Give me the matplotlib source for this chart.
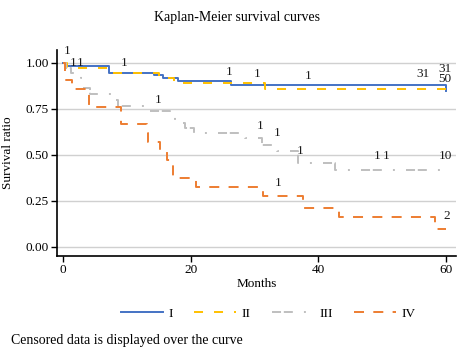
import matplotlib
matplotlib.use('Agg')
import matplotlib.pyplot as plt
from matplotlib.lines import Line2D

plt.rcParams['font.family'] = ['Liberation Serif', 'DejaVu Serif']
plt.rcParams['lines.scale_dashes'] = False

# step curves (time in months, survival ratio)
t_I = [0, 0.5, 7.2, 14.2, 15.7, 18.1, 26.4, 60]
s_I = [1.0, 0.982, 0.947, 0.936, 0.918, 0.90, 0.879, 0.848]

t_II = [0, 0.6, 7.1, 15.1, 17.4, 31.6, 60]
s_II = [1.0, 0.97, 0.943, 0.916, 0.893, 0.859, 0.859]

t_III = [0, 0.5, 1.3, 2.8, 3.2, 4.2, 7.7, 8.6, 13.6, 16.8, 17.6, 19.1, 20.6,
         28.6, 31.2, 33.6, 36.9, 42.6, 60]
s_III = [1.0, 0.975, 0.945, 0.92, 0.865, 0.83, 0.80, 0.767, 0.74, 0.71, 0.675,
         0.648, 0.617, 0.59, 0.553, 0.523, 0.458, 0.418, 0.418]

t_IV = [0, 0.3, 1.4, 4.0, 9.1, 13.1, 13.4, 15.2, 16.3, 17.3, 20.9, 31.4,
        37.6, 43.3, 58.3, 60]
s_IV = [1.0, 0.905, 0.857, 0.759, 0.667, 0.617, 0.568, 0.52, 0.472, 0.373,
        0.324, 0.275, 0.21, 0.161, 0.10, 0.10]

# censored counts written over the curves
cens_text = ['1', '1', '1', '1', '1', '1', '1', '31', '31', '50',
             '1', '1', '1', '1', '1', '1', '10', '1', '2']
cens_x = [0.7, 1.6, 2.7, 9.6, 26.1, 30.5, 38.4, 56.4, 59.9, 59.9,
          14.9, 30.9, 33.5, 37.1, 49.2, 50.6, 60.0, 33.8, 60.1]
cens_y = [1.065, 1.0, 1.0, 1.0, 0.95, 0.94, 0.93, 0.94, 0.967, 0.91,
          0.80, 0.655, 0.62, 0.523, 0.495, 0.495, 0.495, 0.346, 0.168]

groups = ['I', 'II', 'III', 'IV']
colors = ['#4472C4', '#FFC000', '#BFBFBF', '#ED7D31']
styles = ['-', (0, (6.5, 7.9)), (0, (6.5, 2, 6.5, 8, 1.4, 8)), (0, (7.2, 6.7))]

fig = plt.figure(figsize=(4.75, 3.55), dpi=100)
ax = fig.add_axes([0.12, 0.279, 0.84, 0.58])

curves = [(t_I, s_I), (t_II, s_II), (t_III, s_III), (t_IV, s_IV)]
for (t, s), c, ls in zip(curves, colors, styles):
    ax.step(t, s, where='post', color=c, linestyle=ls, linewidth=1.4)

for txt, x, y in zip(cens_text, cens_x, cens_y):
    ax.text(x, y, txt, ha='center', va='center', fontsize=9.5, color='#1a1a1a')

ax.set_xlim(-0.94, 61.6)
ax.set_ylim(-0.049, 1.07)
ax.set_xticks([0, 20, 40, 60])
ax.set_yticks([0, 0.25, 0.5, 0.75, 1.0])
ax.set_yticklabels(['0.00', '0.25', '0.50', '0.75', '1.00'])
ax.tick_params(labelsize=9.5, length=4, width=1, color='black')
ax.tick_params(axis='x', pad=2)
ax.tick_params(axis='y', pad=2)
ax.yaxis.grid(True, color='#d0d0d0', linewidth=1)
ax.set_axisbelow(True)
for side in ['top', 'right']:
    ax.spines[side].set_visible(False)
for side in ['left', 'bottom']:
    ax.spines[side].set_linewidth(1.2)

ax.set_xlabel('Months', fontsize=9.5, labelpad=1)
ax.set_ylabel('Survival ratio', fontsize=9.5, labelpad=8)
fig.text(0.5, 0.952, 'Kaplan-Meier survival curves', fontsize=10,
         ha='center', va='center')

handles = [Line2D([], [], color=c, linestyle=ls, linewidth=1.4)
           for c, ls in zip(colors, styles)]
fig.legend(handles, groups, loc='center', bbox_to_anchor=(0.565, 0.117), ncol=4,
           frameon=False, fontsize=9.5, handlelength=3.2, handletextpad=0.4,
           columnspacing=1.6)

fig.text(0.023, 0.042, 'Censored data is displayed over the curve', fontsize=10,
         ha='left', va='center')

fig.savefig('out.png', dpi=100)
